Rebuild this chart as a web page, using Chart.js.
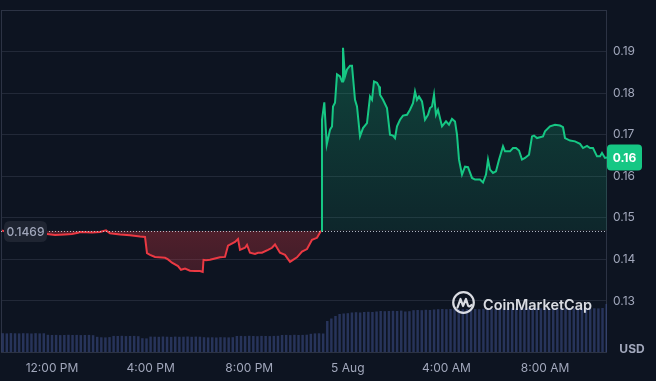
<!DOCTYPE html>
<html><head><meta charset="utf-8">
<script src="https://cdn.jsdelivr.net/npm/chart.js@4.4.1/dist/chart.umd.min.js"></script>
<style>html,body{margin:0;padding:0;background:#0d1421;}#wrap{width:656px;height:381px;}</style>
</head><body><div id="wrap"><canvas id="c" width="656" height="381"></canvas></div>
<script>
// ---- data ----
const baseline = 0.1469;            // opening price (dotted reference line)
const baselineLabel = '0.1469';
const lastPriceLabel = '0.16';
const unitLabel = 'USD';
const brandLabel = 'CoinMarketCap';

// hours since 00:00 on 4 Aug (values above 24 are on 5 Aug)
const priceTimes = [
  9.972, 10.215, 10.702, 11.310, 11.797, 12.122, 12.527, 12.811, 13.055, 13.136,
  13.623, 13.947, 14.191, 14.353, 14.759, 15.164, 15.570, 15.773, 15.854, 15.976,
  16.178, 16.584, 16.706, 16.868, 17.112, 17.233, 17.396, 17.598, 17.801, 18.004,
  18.114, 18.146, 18.247, 18.410, 18.613, 18.815, 19.018, 19.140, 19.424, 19.546,
  19.627, 19.830, 19.911, 20.032, 20.235, 20.357, 20.519, 20.763, 20.925, 21.047,
  21.128, 21.249, 21.452, 21.655, 21.777, 21.939, 22.142, 22.345, 22.548, 22.751,
  22.913, 22.953, 23.047, 23.144, 23.278, 23.359, 23.400, 23.481, 23.562, 23.684,
  23.765, 23.805, 23.886, 23.968, 24.089, 24.170, 24.292, 24.373, 24.495, 24.617,
  24.779, 24.901, 24.982, 25.063, 25.185, 25.266, 25.306, 25.428, 25.590, 25.712,
  25.834, 25.915, 25.996, 26.118, 26.239, 26.402, 26.523, 26.645, 26.726, 26.807,
  26.888, 27.010, 27.132, 27.254, 27.335, 27.416, 27.497, 27.578, 27.659, 27.822,
  27.984, 28.105, 28.227, 28.349, 28.430, 28.511, 28.633, 28.755, 28.876, 29.039,
  29.160, 29.363, 29.485, 29.606, 29.688, 29.769, 29.890, 30.012, 30.134, 30.296,
  30.377, 30.580, 30.702, 30.824, 30.945, 31.067, 31.189, 31.351, 31.473, 31.554,
  31.675, 31.797, 31.919, 32.000, 32.203, 32.406, 32.609, 32.730, 32.811, 33.014,
  33.217, 33.420, 33.542, 33.704, 33.826, 33.947, 34.110, 34.231, 34.312, 34.434,
  34.515
];
const prices = [
  0.1470, 0.1464, 0.1463, 0.1461, 0.1461, 0.1459, 0.1460, 0.1461, 0.1464, 0.1466,
  0.1465, 0.1466, 0.1470, 0.1463, 0.1460, 0.1458, 0.1455, 0.1454, 0.1415, 0.1411,
  0.1406, 0.1404, 0.1400, 0.1392, 0.1384, 0.1375, 0.1378, 0.1373, 0.1372, 0.1372,
  0.1370, 0.1399, 0.1398, 0.1399, 0.1402, 0.1405, 0.1406, 0.1433, 0.1442, 0.1449,
  0.1423, 0.1428, 0.1435, 0.1416, 0.1413, 0.1416, 0.1416, 0.1423, 0.1428, 0.1436,
  0.1428, 0.1416, 0.1411, 0.1394, 0.1399, 0.1405, 0.1419, 0.1425, 0.1447, 0.1452,
  0.1469, 0.1736, 0.1778, 0.1676, 0.1712, 0.1720, 0.1768, 0.1777, 0.1845, 0.1840,
  0.1828, 0.1909, 0.1840, 0.1857, 0.1866, 0.1866, 0.1784, 0.1768, 0.1696, 0.1716,
  0.1728, 0.1792, 0.1784, 0.1828, 0.1825, 0.1816, 0.1796, 0.1784, 0.1764, 0.1700,
  0.1698, 0.1692, 0.1720, 0.1736, 0.1746, 0.1748, 0.1760, 0.1776, 0.1804, 0.1784,
  0.1792, 0.1780, 0.1736, 0.1748, 0.1764, 0.1768, 0.1796, 0.1748, 0.1760, 0.1720,
  0.1732, 0.1724, 0.1738, 0.1732, 0.1700, 0.1640, 0.1604, 0.1623, 0.1622, 0.1596,
  0.1592, 0.1592, 0.1585, 0.1604, 0.1640, 0.1616, 0.1608, 0.1612, 0.1640, 0.1672,
  0.1660, 0.1660, 0.1668, 0.1668, 0.1662, 0.1640, 0.1644, 0.1652, 0.1696, 0.1698,
  0.1692, 0.1694, 0.1696, 0.1708, 0.1720, 0.1724, 0.1722, 0.1718, 0.1692, 0.1686,
  0.1684, 0.1678, 0.1668, 0.1673, 0.1668, 0.1668, 0.1648, 0.1648, 0.1656, 0.1644,
  0.1645
];

// volume (thousand USD) every 10 minutes from 10:00 on 4 Aug
const volumeStartHour = 10;
const volumeStepHours = 1 / 6;
const volumes = [
  188,186,189,187,186,188,187,185,188,186,187,
  172,170,171,169,170,172,170,171,169,170,171,168,
  152,147,146,149,
  161,160,162,159,160,161,158,
  138,136,
  154,153,152,155,153,151,154,152,153,155,152,154,153,
  148,146,147,145,148,147,146,148,
  160,161,159,162,160,158,161,160,159,161,162,
  170,171,169,172,170,171,173,
  182,186,187,185,
  310,335,360,380,385,388,395,398,395,400,
  402,400,405,410,408,410,412,410,414,405,
  408,418,420,418,422,420,425,428,430,428,
  430,432,430,428,430,432,430,428,432,434,
  432,430,434,436,435,437,436,435,437,438,
  436,437,438,436,437,438,436,437,438,437,
  436,438,437,436,438,437,436,440,480
];

const xTickHours = [12, 16, 20, 24, 28, 32];
const xTickLabels = ['12:00 PM', '4:00 PM', '8:00 PM', '5 Aug', '4:00 AM', '8:00 AM'];
const priceTicks = [0.13, 0.14, 0.15, 0.16, 0.17, 0.18, 0.19];

// ---- styling ----
const FONT = 'Inter, "Noto Sans", sans-serif';
const BG = '#0d1421';
const GREEN = '#16c784';
const RED = '#ea3943';
const GRID = '#222938';
const FRAME = '#2c3344';
const TEXT = '#a1a7bb';

const canvas = document.getElementById('c');
const ctx0 = canvas.getContext('2d');
const gGreen = ctx0.createLinearGradient(0, 45, 0, 232);
gGreen.addColorStop(0, 'rgba(22,199,132,0.27)');
gGreen.addColorStop(1, 'rgba(22,199,132,0.10)');
const gRed = ctx0.createLinearGradient(0, 231, 0, 275);
gRed.addColorStop(0, 'rgba(234,57,67,0.30)');
gRed.addColorStop(1, 'rgba(234,57,67,0.22)');

function rr(ctx, x, y, w, h, r) {
  ctx.beginPath();
  ctx.moveTo(x + r, y);
  ctx.lineTo(x + w - r, y); ctx.quadraticCurveTo(x + w, y, x + w, y + r);
  ctx.lineTo(x + w, y + h - r); ctx.quadraticCurveTo(x + w, y + h, x + w - r, y + h);
  ctx.lineTo(x + r, y + h); ctx.quadraticCurveTo(x, y + h, x, y + h - r);
  ctx.lineTo(x, y + r); ctx.quadraticCurveTo(x, y, x + r, y);
  ctx.closePath();
}

const decor = {
  id: 'decor',
  beforeDraw(chart) {
    const c = chart.ctx;
    c.save(); c.fillStyle = BG; c.fillRect(0, 0, chart.width, chart.height); c.restore();
  },
  beforeDatasetsDraw(chart) {
    const c = chart.ctx, a = chart.chartArea;
    c.save();
    c.strokeStyle = FRAME; c.lineWidth = 1;
    c.strokeRect(a.left + 0.5, a.top + 0.5, a.right - a.left - 1, a.bottom - a.top);
    c.restore();
  },
  afterDatasetsDraw(chart) {
    const c = chart.ctx, a = chart.chartArea, y = chart.scales.y;
    // dotted opening-price line
    const yb = Math.round(y.getPixelForValue(baseline)) + 0.5;
    c.save();
    c.strokeStyle = 'rgba(205,210,222,0.85)'; c.lineWidth = 1; c.setLineDash([1, 2]);
    c.beginPath(); c.moveTo(a.left, yb); c.lineTo(a.right, yb); c.stroke();
    c.setLineDash([]);
    // left badge
    rr(c, a.left + 3, yb - 10.5, 43, 21, 6);
    c.fillStyle = '#1f2532'; c.fill();
    c.fillStyle = TEXT; c.font = '500 12px ' + FONT; c.textAlign = 'center'; c.textBaseline = 'middle';
    c.fillText(baselineLabel, a.left + 24.5, yb + 0.5);
    // last price badge
    const last = prices[prices.length - 1];
    const yl = y.getPixelForValue(last);
    rr(c, a.right, yl - 13, 35, 26, 4);
    c.fillStyle = GREEN; c.fill();
    c.fillStyle = '#ffffff'; c.font = '700 12px ' + FONT;
    c.fillText(lastPriceLabel, a.right + 17.5, yl + 0.5);
    // unit label
    c.fillStyle = TEXT; c.font = '700 12px ' + FONT;
    c.fillText(unitLabel, a.right + 25, a.bottom - 2.5);
    // watermark
    const cx = a.right - 143.5, cy = a.bottom - 49.5;
    c.strokeStyle = 'rgba(236,238,243,0.92)'; c.lineWidth = 2.2; c.lineCap = 'round'; c.lineJoin = 'round';
    c.beginPath(); c.arc(cx, cy, 10.3, 0, Math.PI * 2); c.stroke();
    c.beginPath();
    c.moveTo(cx - 6, cy + 5);
    c.lineTo(cx - 3, cy - 3.5);
    c.lineTo(cx - 0.5, cy + 3.5);
    c.lineTo(cx + 2.5, cy - 3.5);
    c.lineTo(cx + 4.5, cy + 3);
    c.quadraticCurveTo(cx + 6, cy + 5, cx + 8, cy + 2.5);
    c.stroke();
    let size = 15;
    c.font = '600 ' + size + 'px ' + FONT;
    const w = c.measureText(brandLabel).width;
    size = size * 109 / w;
    c.font = '600 ' + size.toFixed(2) + 'px ' + FONT;
    c.fillStyle = 'rgba(236,238,243,0.92)'; c.textAlign = 'left'; c.textBaseline = 'alphabetic';
    c.fillText(brandLabel, a.right - 124, a.bottom - 42);
    c.restore();
  }
};

const below = (v) => v < baseline - 1e-9;

new Chart(canvas, {
  data: {
    datasets: [
      {
        type: 'line',
        label: 'Price',
        data: priceTimes.map((t, i) => ({ x: t, y: prices[i] })),
        yAxisID: 'y',
        borderColor: GREEN,
        borderWidth: 2,
        pointRadius: 0,
        tension: 0,
        fill: { value: baseline, above: gGreen, below: gRed },
        segment: {
          borderColor: (s) => (below(s.p0.parsed.y) || below(s.p1.parsed.y)) ? RED : GREEN
        },
        order: 0
      },
      {
        type: 'bar',
        label: 'Volume',
        data: volumes.map((v, i) => ({ x: volumeStartHour + i * volumeStepHours, y: v })),
        yAxisID: 'vol',
        backgroundColor: 'rgba(62,78,138,0.55)',
        barPercentage: 0.6,
        categoryPercentage: 1,
        order: 1
      }
    ]
  },
  options: {
    responsive: false,
    animation: false,
    layout: { padding: { left: 1, top: 10, right: 0, bottom: 0 } },
    plugins: { legend: { display: false }, tooltip: { enabled: false } },
    scales: {
      x: {
        type: 'linear',
        offset: false,
        min: 9.931,
        max: 34.515,
        afterBuildTicks: (s) => { s.ticks = xTickHours.map((v) => ({ value: v })); },
        afterFit: (s) => { s.height = 29; s.paddingLeft = 0; s.paddingRight = 0; },
        ticks: {
          callback: (v, i) => xTickLabels[i],
          color: TEXT, font: { family: FONT, size: 12 }, padding: 9,
          maxRotation: 0, autoSkip: false
        },
        grid: { display: false, drawTicks: false, offset: false },
        border: { display: false }
      },
      y: {
        type: 'linear',
        position: 'right',
        min: 0.11773,
        max: 0.2,
        afterBuildTicks: (s) => { s.ticks = priceTicks.map((v) => ({ value: v })); },
        afterFit: (s) => { s.width = 49; s.paddingTop = 0; s.paddingBottom = 0; },
        ticks: {
          callback: (v) => v.toFixed(2),
          color: TEXT, font: { family: FONT, size: 12 }, padding: 6
        },
        grid: { color: GRID, drawTicks: false },
        border: { display: false }
      },
      vol: {
        type: 'linear',
        display: false,
        min: 0,
        max: 3420
      }
    }
  },
  plugins: [decor]
});
</script>
</body></html>
